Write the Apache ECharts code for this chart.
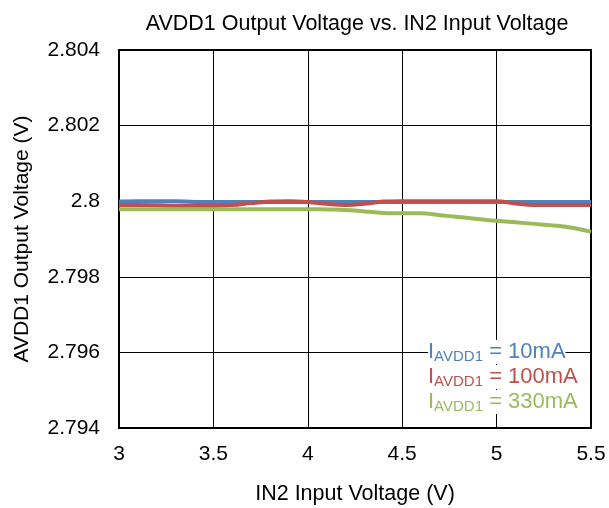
<!DOCTYPE html>
<html><head><meta charset="utf-8">
<script src="https://cdn.jsdelivr.net/npm/echarts@6/dist/echarts.min.js"></script>
<style>html,body{margin:0;padding:0;background:#fff}#c{width:609px;height:508px}</style>
</head><body><div id="c"></div>
<script>
const xValues = [3.0,3.1,3.2,3.3,3.4,3.5,3.6,3.7,3.8,3.9,4.0,4.1,4.2,4.3,4.4,4.5,4.6,4.7,4.8,4.9,5.0,5.1,5.2,5.3,5.4,5.5];
const blue10mA = [2.79999,2.80000,2.80000,2.80000,2.79998,2.79998,2.79998,2.79998,2.79998,2.79998,2.79998,2.79998,2.79998,2.79998,2.79998,2.79998,2.79998,2.79998,2.79998,2.79998,2.79998,2.79998,2.79998,2.79998,2.79998,2.79998];
const red100mA = [2.79990,2.79990,2.79989,2.79988,2.79988,2.79988,2.79990,2.79995,2.79999,2.80000,2.79998,2.79993,2.79990,2.79993,2.79999,2.80000,2.80000,2.80000,2.80000,2.80000,2.80000,2.79994,2.79990,2.79990,2.79990,2.79990];
const green330mA = [2.79979,2.79979,2.79979,2.79979,2.79979,2.79979,2.79979,2.79979,2.79979,2.79979,2.79979,2.79978,2.79977,2.79973,2.79969,2.79968,2.79968,2.79963,2.79958,2.79953,2.79948,2.79944,2.79940,2.79936,2.79930,2.79919];
const seriesNames = ['10mA','100mA','330mA'];
const colors = ['#4f81bd','#c0504d','#9bbb59'];

const chart = echarts.init(document.getElementById('c'));
const mk = arr => xValues.map((x,i)=>[x,arr[i]]);
const lineSeries = (name, data, color) => ({
  name, type:'line', data: mk(data), smooth:0.4, symbol:'none',
  lineStyle:{color, width:4}, itemStyle:{color}
});
const font = '"Liberation Sans", Arial, sans-serif';
chart.setOption({
  animation:false,
  title:{text:'AVDD1 Output Voltage vs. IN2 Input Voltage', left:352, textAlign:'center', top:8,
    textStyle:{fontFamily:font, fontSize:21.5, fontWeight:'normal', color:'#000'}},
  grid:{left:119, right:18, top:50, bottom:80, show:true, borderColor:'#000', borderWidth:2, backgroundColor:'#fff',
    containLabel:false, outerBoundsMode:'none'},
  xAxis:{type:'value', min:3, max:5.5, interval:0.5,
    name:'IN2 Input Voltage (V)', nameLocation:'middle', nameGap:55,
    nameTextStyle:{fontFamily:font, fontSize:21.5, color:'#000'},
    axisLine:{show:true, lineStyle:{color:'#000', width:2}}, axisTick:{show:false},
    axisLabel:{fontFamily:font, fontSize:21, color:'#000', margin:16},
    splitLine:{show:true, lineStyle:{color:'#000', width:1}}},
  yAxis:{type:'value', min:2.794, max:2.804, interval:0.002,
    name:'AVDD1 Output Voltage (V)', nameLocation:'middle', nameGap:86,
    nameTextStyle:{fontFamily:font, fontSize:21, color:'#000'},
    axisLine:{show:true, lineStyle:{color:'#000', width:2}}, axisTick:{show:false},
    axisLabel:{fontFamily:font, fontSize:21, color:'#000', margin:19,
      formatter:v=>String(parseFloat(v.toFixed(3)))},
    splitLine:{show:true, lineStyle:{color:'#000', width:1}}},
  series:[
    lineSeries(seriesNames[0], blue10mA, colors[0]),
    lineSeries(seriesNames[1], red100mA, colors[1]),
    lineSeries(seriesNames[2], green330mA, colors[2])
  ],
  graphic: seriesNames.map((n,i)=>({
    type:'text', left:428, top:340+i*25, z:100,
    style:{
      text:'{a|I}{b|AVDD1}{a| = '+n+'}',
      backgroundColor:'#fff',
      rich:{
        a:{fontFamily:font, fontSize:22, fill:colors[i], lineHeight:24},
        b:{fontFamily:font, fontSize:15, fill:colors[i], verticalAlign:'bottom', lineHeight:24, padding:[8,0,0,0]}
      }
    }
  }))
});
</script></body></html>
